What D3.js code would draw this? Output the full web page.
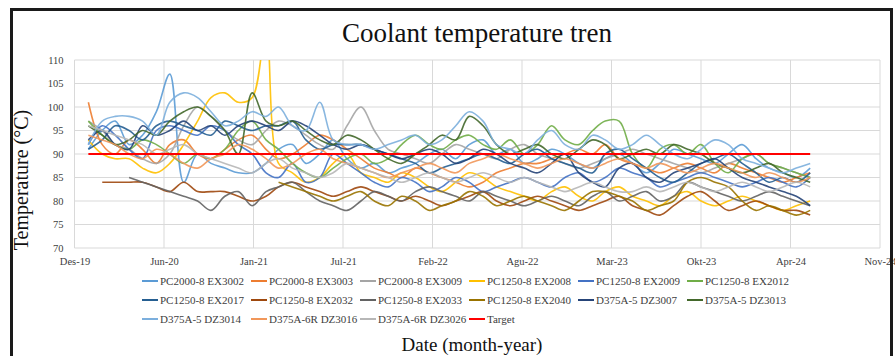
<!DOCTYPE html>
<html>
<head>
<meta charset="utf-8">
<script src="https://cdn.jsdelivr.net/npm/d3@7/dist/d3.min.js"></script>
<style>
  body { margin: 0; background: #fff; }
  svg text { font-family: "Liberation Serif", "Times New Roman", serif !important; }
</style>
</head>
<body>
<div id="chart"></div>
<script>
// monthly readings, Jan-2020 .. Jun-2024 (null = no reading yet)
var seriesNames = [
  "PC2000-8 EX3002", "PC2000-8 EX3003", "PC2000-8 EX3009", "PC1250-8 EX2008", "PC1250-8 EX2009", "PC1250-8 EX2012",
  "PC1250-8 EX2017", "PC1250-8 EX2032", "PC1250-8 EX2033", "PC1250-8 EX2040", "D375A-5 DZ3007", "D375A-5 DZ3013",
  "D375A-5 DZ3014", "D375A-6R DZ3016", "D375A-6R DZ3026"
];
var ex3002 = [91, 95, 97, 92, 94, 99, 107, 84, 90, 88, 87, 86, 86, 88, 91, 92, 88, 90, 93, 89, 87, 88, 86, 87, 88, 90, 91, 89, 92, 93, 90, 91, 88, 89, 91, 90, 88, 87, 89, 90, 88, 86, 88, 91, 90, 89, 88, 90, 92, 89, 87, 86, 85, 87];
var ex3003 = [101, 92, 90, 93, 91, 88, 92, 93, 90, 89, 91, 93, 94, 91, 89, 90, 92, 94, 93, 91, 89, 87, 86, 85, 87, 86, 85, 84, 83, 84, 86, 87, 88, 88, 89, 90, 91, 90, 92, 89, 88, 87, 86, 87, 88, 87, 86, 88, 87, 86, 85, 84, 85, 86];
var ex3009 = [97, 95, 92, 91, 89, 88, 90, 96, 100, 98, 95, 93, 92, 95, 97, 96, 94, 92, 91, 96, 100, 95, 91, 90, 89, 88, 90, 92, 91, 90, 89, 91, 92, 90, 89, 88, 87, 88, 89, 90, 91, 90, 89, 88, 87, 86, 87, 88, 89, 90, 88, 87, 86, 85];
var ex2008 = [93, 90, 89, 89, 87, 86, 88, 92, 97, 102, 103, 101, 102, 117, 88, 86, 84, 85, 88, 90, 86, 85, 84, 86, 85, 83, 82, 84, 86, 85, 83, 82, 81, 80, 82, 83, 81, 80, 82, 83, 81, 80, 79, 81, 82, 80, 79, 80, 81, 80, 79, 78, 79, 80];
var ex2009 = [92, 96, 94, 91, 89, 95, 96, 95, 94, 96, 95, 92, 90, 86, 85, 88, 84, 85, 90, 88, 86, 84, 83, 85, 84, 82, 83, 85, 84, 82, 83, 84, 85, 84, 83, 85, 86, 84, 85, 87, 86, 85, 83, 84, 85, 86, 85, 84, 83, 84, 85, 84, 83, 85];
var ex2012 = [97, 94, 92, 91, 93, 92, 90, 88, 90, 89, 91, 95, 97, 93, 91, 88, 86, 85, 87, 89, 90, 88, 89, 92, 94, 92, 91, 93, 94, 92, 91, 93, 90, 92, 96, 93, 92, 95, 97, 97, 90, 87, 91, 92, 90, 92, 88, 86, 89, 90, 88, 87, 86, 85];
var ex2017 = [91, 93, 96, 95, 93, 96, 97, 96, 95, 94, 97, 96, 95, 96, 96, 97, 93, 91, 92, 92, 92, 91, 90, 89, 88, 86, 87, 88, 89, 90, 89, 88, 90, 91, 89, 88, 87, 86, 90, 91, 89, 87, 85, 84, 86, 88, 89, 90, 88, 86, 84, 85, 84, 86];
var ex2032 = [null, 84, 84, 84, 84, 83, 82, 84, 82, 82, 82, 81, 80, 81, 83, 84, 83, 82, 81, 82, 83, 82, 81, 80, 81, 80, 79, 80, 81, 82, 80, 79, 80, 81, 80, 79, 78, 79, 80, 81, 79, 78, 77, 79, 81, 82, 80, 78, 79, 80, 79, 78, 78, 77];
var ex2033 = [null, null, null, 85, 84, 83, 82, 81, 80, 78, 81, 82, 79, 82, 83, 84, 82, 80, 79, 78, 80, 82, 81, 80, 82, 83, 82, 81, 80, 82, 81, 80, 79, 80, 81, 80, 79, 81, 82, 80, 81, 82, 80, 81, 84, 83, 82, 81, 80, 81, 82, 81, 80, 79];
var ex2040 = [null, null, null, null, null, null, null, null, null, null, null, null, null, null,
  84, 83, 82, 81, 80, 81, 82, 80, 79, 81, 80, 78, 79, 80, 82, 81, 79, 80, 81, 80, 79, 78, 80, 82, 82, 81, 80, 78, 79, 80, 84, 85, 84, 83, 80, 78, 79, 78, 77, 78];
var dz3007 = [93, 95, 92, 91, 96, 94, 95, 97, 95, 96, 94, 96, 97, 96, 95, 97, 96, 94, 92, 91, 92, 91, 90, 89, 90, 91, 90, 88, 89, 91, 90, 88, 87, 86, 88, 90, 86, 84, 83, 87, 88, 85, 84, 86, 87, 88, 89, 87, 85, 84, 83, 82, 81, 79];
var dz3013 = [96, 94, 92, 93, 95, 94, 97, 99, 100, 98, 95, 90, 103, 97, 96, 97, 95, 93, 92, 94, 93, 91, 89, 88, 90, 92, 94, 93, 98, 96, 92, 90, 91, 92, 90, 89, 91, 93, 92, 89, 90, 91, 90, 92, 91, 90, 88, 87, 86, 87, 88, 86, 85, 84];
var dz3014 = [92, 97, 98, 98, 97, 94, 101, 103, 102, 99, 96, 97, 99, 98, 100, 96, 95, 101, 93, 92, 92, 91, 92, 93, 94, 92, 93, 96, 99, 97, 92, 91, 90, 93, 95, 92, 91, 94, 93, 91, 92, 94, 92, 90, 89, 91, 93, 92, 89, 88, 87, 86, 87, 88];
var dz3016 = [94, 93, 92, 90, 89, 91, 90, 88, 87, 89, 90, 92, 91, 89, 87, 88, 90, 91, 89, 88, 87, 86, 85, 86, 87, 88, 87, 86, 88, 89, 90, 89, 88, 87, 88, 89, 88, 87, 88, 89, 88, 87, 88, 87, 86, 87, 88, 87, 86, 85, 86, 85, 84, 85];
var dz3026 = [96, 95, 94, 93, 92, 90, 91, 92, 90, 89, 88, 87, 86, 88, 89, 87, 86, 85, 86, 88, 87, 86, 85, 84, 85, 86, 85, 84, 85, 86, 85, 84, 85, 84, 83, 82, 83, 84, 83, 82, 82, 83, 82, 83, 84, 83, 82, 83, 84, 83, 82, 83, 84, 83];
var targetValue = 90;

var xTickLabels = ["Des-19", "Jun-20", "Jan-21", "Jul-21", "Feb-22", "Agu-22", "Mar-23", "Okt-23", "Apr-24", "Nov-24"];
var yTicks = [70, 75, 80, 85, 90, 95, 100, 105, 110];

var seriesValues = [ex3002, ex3003, ex3009, ex2008, ex2009, ex2012, ex2017, ex2032, ex2033, ex2040, dz3007, dz3013, dz3014, dz3016, dz3026];
var colors = ["#5b9bd5", "#ed7d31", "#a5a5a5", "#ffc000", "#4472c4", "#70ad47", "#255e91", "#9e480e",
  "#636363", "#997300", "#264478", "#43682b", "#7cafdd", "#f1975a", "#b7b7b7"];

var width = 895, height = 356;
var margin = { top: 60, right: 15, bottom: 108, left: 74.5 };
var serif = "'Liberation Serif', 'Times New Roman', serif";

var axisStart = new Date(2019, 11, 1);
var firstMonth = new Date(2020, 0, 1);
var dates = d3.range(ex3002.length).map(function (i) { return d3.timeMonth.offset(firstMonth, i); });
var tickDates = xTickLabels.map(function (d, i) { return d3.timeDay.offset(axisStart, 200 * i); });

var xScale = d3.scaleTime()
  .domain([axisStart, tickDates[tickDates.length - 1]])
  .range([margin.left, 880]);
var yScale = d3.scaleLinear()
  .domain([70, 110])
  .range([height - margin.bottom, margin.top]);

var svg = d3.select("#chart").append("svg")
  .attr("width", width)
  .attr("height", height)
  .attr("font-family", serif);

svg.append("defs").append("clipPath")
  .attr("id", "plotClip")
  .append("rect")
  .attr("x", xScale.range()[0])
  .attr("y", yScale(110))
  .attr("width", xScale.range()[1] - xScale.range()[0])
  .attr("height", yScale(70) - yScale(110));

// gridlines
svg.append("g")
  .selectAll("line")
  .data(yTicks)
  .enter().append("line")
  .attr("x1", xScale.range()[0])
  .attr("x2", xScale.range()[1])
  .attr("y1", function (d) { return yScale(d); })
  .attr("y2", function (d) { return yScale(d); })
  .style("stroke", "#d9d9d9")
  .style("stroke-width", 1);

svg.append("g")
  .selectAll("line")
  .data(tickDates)
  .enter().append("line")
  .attr("x1", function (d) { return xScale(d); })
  .attr("x2", function (d) { return xScale(d); })
  .attr("y1", yScale(110))
  .attr("y2", yScale(70))
  .style("stroke", "#d9d9d9")
  .style("stroke-width", 1);

// axes (labels only, Excel style)
var xAxis = svg.append("g")
  .attr("transform", "translate(0," + yScale(70) + ")")
  .call(d3.axisBottom(xScale)
    .tickValues(tickDates)
    .tickSize(0)
    .tickPadding(10)
    .tickFormat(function (d, i) { return xTickLabels[i]; }));
xAxis.select(".domain").remove();

var yAxis = svg.append("g")
  .attr("transform", "translate(" + margin.left + ",0)")
  .call(d3.axisLeft(yScale)
    .tickValues(yTicks)
    .tickSize(0)
    .tickPadding(11));
yAxis.select(".domain").remove();

svg.selectAll(".tick text")
  .attr("font-family", serif)
  .style("font-size", "10.5px")
  .style("fill", "#404040");

var line = d3.line()
  .defined(function (d) { return d.v != null; })
  .x(function (d) { return xScale(d.date); })
  .y(function (d) { return yScale(d.v); })
  .curve(d3.curveCatmullRom.alpha(0.5));

var plot = svg.append("g").attr("clip-path", "url(#plotClip)");

seriesValues.forEach(function (vals, k) {
  plot.append("path")
    .datum(vals.map(function (v, i) { return { date: dates[i], v: v }; }))
    .attr("d", line)
    .style("fill", "none")
    .style("stroke", colors[k])
    .style("stroke-width", 1.6)
    .style("stroke-opacity", 0.9);
});

plot.append("path")
  .datum(dates.map(function (d) { return { date: d, v: targetValue }; }))
  .attr("d", line)
  .style("fill", "none")
  .style("stroke", "#ff0000")
  .style("stroke-width", 2);

// legend
var legendNames = seriesNames.concat(["Target"]);
var legendColors = colors.concat(["#ff0000"]);
var legend = svg.append("g")
  .selectAll("g")
  .data(legendNames)
  .enter().append("g")
  .attr("transform", function (d, i) {
    return "translate(" + (142 + (i % 6) * 109) + "," + (281 + Math.floor(i / 6) * 19) + ")";
  });
legend.append("line")
  .attr("x1", 0).attr("x2", 16)
  .style("stroke", function (d, i) { return legendColors[i]; })
  .style("stroke-width", 2);
legend.append("text")
  .attr("x", 18)
  .attr("dy", "0.35em")
  .attr("font-family", serif)
  .style("font-size", "11px")
  .style("fill", "#404040")
  .text(function (d) { return d; });

// titles
svg.append("text")
  .attr("x", 477)
  .attr("y", 42)
  .attr("text-anchor", "middle")
  .attr("font-family", serif)
  .style("font-size", "27px")
  .style("fill", "#111")
  .text("Coolant temperature tren");

svg.append("text")
  .attr("transform", "translate(28,180)rotate(-90)")
  .attr("text-anchor", "middle")
  .attr("font-family", serif)
  .style("font-size", "20px")
  .style("fill", "#111")
  .text("Temperature (°C)");

svg.append("text")
  .attr("x", 472)
  .attr("y", 351)
  .attr("text-anchor", "middle")
  .attr("font-family", serif)
  .style("font-size", "19px")
  .style("fill", "#111")
  .text("Date (month-year)");

// outer frame
svg.append("rect")
  .attr("x", 11.5)
  .attr("y", 9.5)
  .attr("width", 880)
  .attr("height", 400)
  .style("fill", "none")
  .style("stroke", "#1a1a1a")
  .style("stroke-width", 3);
</script>
</body>
</html>
